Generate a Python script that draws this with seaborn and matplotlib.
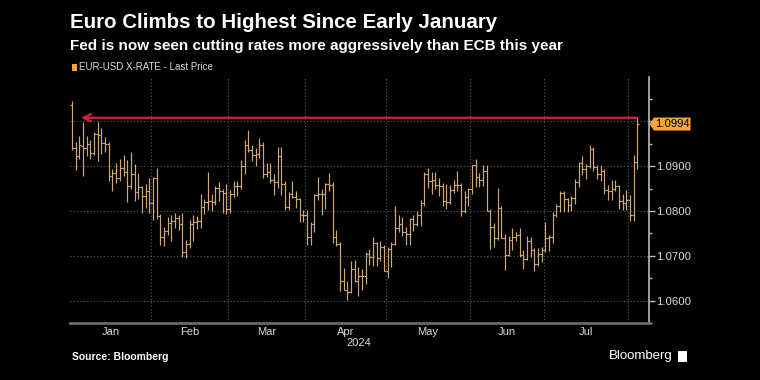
import numpy as np
import pandas as pd
import matplotlib
matplotlib.use("Agg")
import matplotlib.pyplot as plt
import seaborn as sns
from matplotlib.patches import Polygon, Rectangle

# ---------------- data (EUR-USD daily OHLC) ----------------
dates = pd.bdate_range("2024-01-02", "2024-08-05")

opens = [1.1037, 1.0940, 1.0922, 1.0945, 1.0941, 1.0950, 1.0930, 1.0972, 1.0970, 1.0951, 1.0950, 1.0878, 1.0884, 1.0874, 1.0897, 1.0886, 1.0855, 1.0883, 1.0843, 1.0854, 1.0833, 1.0845,
         1.0818, 1.0873, 1.0788, 1.0743, 1.0756, 1.0773, 1.0778, 1.0784, 1.0772, 1.0708, 1.0727, 1.0772, 1.0776, 1.0777, 1.0808, 1.0821, 1.0823, 1.0820, 1.0851, 1.0844, 1.0841,
         1.0804, 1.0838, 1.0855, 1.0856, 1.0900, 1.0948, 1.0937, 1.0926, 1.0927, 1.0948, 1.0882, 1.0888, 1.0869, 1.0864, 1.0923, 1.0860, 1.0808, 1.0838, 1.0831, 1.0826, 1.0790,
         1.0790, 1.0741, 1.0770, 1.0836, 1.0837, 1.0838, 1.0860, 1.0857, 1.0742, 1.0726, 1.0643, 1.0624, 1.0620, 1.0671, 1.0643, 1.0656, 1.0654, 1.0703, 1.0698, 1.0728, 1.0694, 1.0719,
         1.0666, 1.0715, 1.0727, 1.0761, 1.0770, 1.0753, 1.0749, 1.0782, 1.0771, 1.0790, 1.0818, 1.0883, 1.0866, 1.0869, 1.0857, 1.0855, 1.0822, 1.0819, 1.0847, 1.0858, 1.0858, 1.0800, 1.0832,
         1.0848, 1.0902, 1.0876, 1.0869, 1.0890, 1.0800, 1.0765, 1.0740, 1.0806, 1.0740, 1.0702, 1.0735, 1.0741, 1.0746, 1.0701, 1.0692, 1.0733, 1.0714, 1.0681, 1.0704,
         1.0713, 1.0740, 1.0742, 1.0792, 1.0810, 1.0840, 1.0826, 1.0813, 1.0830, 1.0865, 1.0908, 1.0894, 1.0900, 1.0938, 1.0899, 1.0883, 1.0890, 1.0847, 1.0844, 1.0849, 1.0856, 1.0823, 1.0817,
         1.0825, 1.0790, 1.0910]
highs = [1.1046, 1.0954, 1.0968, 1.0998, 1.0968, 1.0958, 1.0976, 1.0998, 1.0986, 1.0966, 1.0953, 1.0893, 1.0907, 1.0915, 1.0924, 1.0914, 1.0932, 1.0904, 1.0885, 1.0856, 1.0860, 1.0874,
         1.0875, 1.0897, 1.0793, 1.0764, 1.0787, 1.0790, 1.0795, 1.0791, 1.0795, 1.0735, 1.0780, 1.0790, 1.0788, 1.0839, 1.0827, 1.0888, 1.0838, 1.0856, 1.0865, 1.0848, 1.0860,
         1.0846, 1.0868, 1.0868, 1.0913, 1.0958, 1.0981, 1.0948, 1.0941, 1.0963, 1.0955, 1.0907, 1.0908, 1.0882, 1.0942, 1.0942, 1.0868, 1.0843, 1.0866, 1.0845, 1.0828, 1.0803,
         1.0803, 1.0776, 1.0838, 1.0876, 1.0848, 1.0862, 1.0885, 1.0865, 1.0758, 1.0730, 1.0672, 1.0644, 1.0689, 1.0690, 1.0674, 1.0670, 1.0709, 1.0715, 1.0742, 1.0730, 1.0733, 1.0725,
         1.0720, 1.0730, 1.0812, 1.0790, 1.0786, 1.0764, 1.0785, 1.0791, 1.0801, 1.0825, 1.0886, 1.0895, 1.0886, 1.0888, 1.0874, 1.0862, 1.0860, 1.0858, 1.0870, 1.0889, 1.0862, 1.0844, 1.0852,
         1.0903, 1.0916, 1.0885, 1.0902, 1.0902, 1.0804, 1.0773, 1.0852, 1.0812, 1.0748, 1.0745, 1.0761, 1.0752, 1.0761, 1.0712, 1.0745, 1.0741, 1.0717, 1.0718, 1.0720,
         1.0776, 1.0746, 1.0798, 1.0816, 1.0845, 1.0845, 1.0830, 1.0833, 1.0872, 1.0910, 1.0922, 1.0904, 1.0948, 1.0943, 1.0902, 1.0902, 1.0893, 1.0857, 1.0869, 1.0870, 1.0858, 1.0837, 1.0846,
         1.0835, 1.0926, 1.1008]
lows = [1.0937, 1.0892, 1.0915, 1.0877, 1.0922, 1.0916, 1.0924, 1.0912, 1.0928, 1.0932, 1.0867, 1.0844, 1.0863, 1.0867, 1.0878, 1.0821, 1.0850, 1.0822, 1.0827, 1.0795, 1.0806, 1.0795,
        1.0780, 1.0781, 1.0723, 1.0722, 1.0746, 1.0732, 1.0763, 1.0758, 1.0697, 1.0695, 1.0718, 1.0732, 1.0760, 1.0762, 1.0793, 1.0803, 1.0800, 1.0813, 1.0822, 1.0796, 1.0794,
        1.0796, 1.0832, 1.0833, 1.0849, 1.0882, 1.0932, 1.0912, 1.0900, 1.0918, 1.0874, 1.0875, 1.0862, 1.0836, 1.0851, 1.0835, 1.0802, 1.0803, 1.0828, 1.0807, 1.0776, 1.0775,
        1.0724, 1.0725, 1.0752, 1.0825, 1.0792, 1.0804, 1.0844, 1.0728, 1.0722, 1.0622, 1.0623, 1.0601, 1.0617, 1.0641, 1.0610, 1.0624, 1.0638, 1.0680, 1.0678, 1.0677, 1.0689, 1.0666,
        1.0650, 1.0676, 1.0724, 1.0752, 1.0744, 1.0724, 1.0724, 1.0755, 1.0766, 1.0766, 1.0810, 1.0852, 1.0838, 1.0849, 1.0834, 1.0812, 1.0805, 1.0816, 1.0840, 1.0844, 1.0788, 1.0795, 1.0810,
        1.0837, 1.0853, 1.0854, 1.0856, 1.0801, 1.0716, 1.0719, 1.0735, 1.0739, 1.0668, 1.0700, 1.0712, 1.0732, 1.0698, 1.0671, 1.0690, 1.0698, 1.0666, 1.0677, 1.0686,
        1.0709, 1.0710, 1.0728, 1.0786, 1.0797, 1.0797, 1.0797, 1.0801, 1.0815, 1.0853, 1.0881, 1.0871, 1.0897, 1.0889, 1.0872, 1.0868, 1.0838, 1.0825, 1.0825, 1.0844, 1.0804, 1.0802, 1.0803,
        1.0777, 1.0778, 1.0893]
closes = [1.0940, 1.0922, 1.0947, 1.0941, 1.0950, 1.0930, 1.0972, 1.0970, 1.0951, 1.0950, 1.0878, 1.0884, 1.0874, 1.0897, 1.0886, 1.0855, 1.0883, 1.0843, 1.0854, 1.0833, 1.0845, 1.0818,
          1.0873, 1.0788, 1.0743, 1.0756, 1.0773, 1.0778, 1.0784, 1.0772, 1.0708, 1.0727, 1.0772, 1.0776, 1.0777, 1.0808, 1.0821, 1.0823, 1.0820, 1.0851, 1.0844, 1.0841, 1.0804,
          1.0838, 1.0855, 1.0856, 1.0900, 1.0948, 1.0937, 1.0926, 1.0927, 1.0948, 1.0882, 1.0888, 1.0869, 1.0864, 1.0923, 1.0860, 1.0808, 1.0838, 1.0831, 1.0826, 1.0790, 1.0790,
          1.0741, 1.0770, 1.0836, 1.0837, 1.0838, 1.0860, 1.0857, 1.0742, 1.0726, 1.0643, 1.0624, 1.0620, 1.0671, 1.0643, 1.0656, 1.0654, 1.0703, 1.0698, 1.0728, 1.0694, 1.0719, 1.0666,
          1.0715, 1.0727, 1.0761, 1.0770, 1.0753, 1.0749, 1.0782, 1.0771, 1.0790, 1.0818, 1.0883, 1.0866, 1.0869, 1.0857, 1.0855, 1.0822, 1.0819, 1.0847, 1.0858, 1.0858, 1.0800, 1.0832, 1.0848,
          1.0902, 1.0876, 1.0869, 1.0890, 1.0800, 1.0765, 1.0740, 1.0806, 1.0740, 1.0702, 1.0735, 1.0741, 1.0746, 1.0701, 1.0692, 1.0733, 1.0714, 1.0681, 1.0704, 1.0713,
          1.0740, 1.0742, 1.0792, 1.0810, 1.0840, 1.0826, 1.0813, 1.0830, 1.0865, 1.0908, 1.0894, 1.0900, 1.0938, 1.0899, 1.0883, 1.0890, 1.0847, 1.0844, 1.0849, 1.0856, 1.0823, 1.0817, 1.0825,
          1.0790, 1.0910, 1.0994]

last_price = 1.0994
y_ticks = [1.06, 1.07, 1.08, 1.09, 1.10]
month_labels = ["Jan", "Feb", "Mar", "Apr", "May", "Jun", "Jul"]

title = "Euro Climbs to Highest Since Early January"
subtitle = "Fed is now seen cutting rates more aggressively than ECB this year"
legend_label = "EUR-USD X-RATE - Last Price"

# ---------------- style ----------------
sns.set_theme(style="dark")
plt.rcParams["font.family"] = ["Liberation Sans", "DejaVu Sans"]

BG = "#000000"
BAR = "#cfa87c"
ORANGE = "#f5a33a"
RED = "#d2213f"
GRID = "#5a5a5a"
TXT = "#d9d9d9"

df = pd.DataFrame({"date": dates, "open": opens, "high": highs, "low": lows, "close": closes})
df["pos"] = np.arange(len(df))

fig = plt.figure(figsize=(7.6, 3.8), dpi=100, facecolor=BG)
ax = fig.add_axes([70.3 / 760, 1 - 323 / 380, (648.6 - 70.3) / 760, (323 - 77) / 380])
ax.set_facecolor(BG)

# OHLC bars
x = df["pos"].to_numpy()
ax.vlines(x, df["low"], df["high"], color=BAR, lw=0.85, zorder=3)
ax.hlines(df["open"], x - 0.5, x, color=BAR, lw=0.85, zorder=3)
ax.hlines(df["close"], x, x + 0.5, color=BAR, lw=0.85, zorder=3)

ax.set_xlim(-0.5, 157.1)
ax.set_ylim(1.0553, 1.1099)

# month boundaries and centers
months = df["date"].dt.to_period("M")
starts = df.groupby(months)["pos"].min()
ends = df.groupby(months)["pos"].max()
bounds = [s - 0.5 for s in starts.values[1:]]
centers = [(s + e) / 2 for s, e in zip(starts.values[:7], ends.values[:7])]

for b in bounds:
    ax.axvline(b, color=GRID, lw=0.8, ls=(0, (1, 2)), zorder=1)
for yv in y_ticks:
    ax.axhline(yv, color=GRID, lw=0.8, ls=(0, (1, 2)), zorder=1)

ax.grid(False)
ax.set_xticks(bounds)
ax.set_xticklabels([])
ax.set_xticks(centers, minor=True)
ax.set_xticklabels(month_labels, minor=True)
ax.tick_params(axis="x", which="major", length=3, color="#777777", width=1, direction="out")
ax.tick_params(axis="x", which="minor", length=0, pad=3, labelsize=8, labelcolor=TXT)

ax.yaxis.tick_right()
ax.set_yticks(y_ticks)
ax.set_yticklabels([f"{v:.4f}" for v in y_ticks[:-1]] + [""])
ax.set_yticks([1.055, 1.065, 1.075, 1.085, 1.095, 1.105], minor=True)
ax.tick_params(axis="y", which="major", length=4, color="#bbbbbb", width=1, labelsize=8.2, labelcolor=TXT, pad=1.2, left=False)
ax.tick_params(axis="y", which="minor", length=2.5, color="#bbbbbb", width=1, left=False, right=True)

for s in ["top", "left"]:
    ax.spines[s].set_visible(False)
ax.spines["right"].set_color("#bbbbbb")
ax.spines["right"].set_linewidth(1.2)
ax.spines["bottom"].set_color("#6a6a6a")
ax.spines["bottom"].set_linewidth(2)

# red arrow from latest high back to early January
hi_last = df["high"].iloc[-1]
ax.annotate("", xy=(2.4, hi_last), xytext=(x[-1], hi_last),
            arrowprops=dict(arrowstyle="->,head_length=0.45,head_width=0.22", color=RED, lw=1.6,
                            shrinkA=0, shrinkB=0), zorder=4)

# last price tag
tr = ax.get_yaxis_transform()
h = 0.00145
tag = Polygon([(1.0016, last_price), (1.0094, last_price + h), (1.0725, last_price + h),
               (1.0725, last_price - h), (1.0094, last_price - h)],
              closed=True, transform=tr, clip_on=False, facecolor=ORANGE, edgecolor="none", zorder=5)
ax.add_patch(tag)
ax.text(1.0113, last_price, f"{last_price:.4f}", transform=tr, ha="left", va="center",
        fontsize=8.1, color="#000000", zorder=6, clip_on=False)

# texts
fig.text(70 / 760, 1 - 22 / 380, title, fontsize=14.8, fontweight="bold", color="white", va="center", ha="left")
fig.text(70 / 760, 1 - 46 / 380, subtitle, fontsize=11, fontweight="bold", color="white", va="center", ha="left")
fig.patches.append(Rectangle((72 / 760, 1 - 70.5 / 380), 5 / 760, 6 / 380, transform=fig.transFigure,
                             facecolor=ORANGE, edgecolor="none"))
fig.text(79 / 760, 1 - 67.5 / 380, legend_label, fontsize=7, color=TXT, va="center", ha="left",
         family=["Liberation Sans Narrow", "Liberation Sans", "DejaVu Sans"])
fig.text(359 / 760, 1 - 343 / 380, "2024", fontsize=8, color=TXT, va="center", ha="center")
fig.text(72 / 760, 1 - 356.5 / 380, "Source: Bloomberg", fontsize=7.5, fontweight="bold", color="white",
         va="center", ha="left")
fig.text(673 / 760, 1 - 356.5 / 380, "Bloomberg", fontsize=9.5, color="white", va="center", ha="right",
         family=["Liberation Sans Narrow", "Liberation Sans", "DejaVu Sans"])
fig.patches.append(Rectangle((678 / 760, 1 - 362 / 380), 9 / 760, 11 / 380, transform=fig.transFigure,
                             facecolor="white", edgecolor="none"))

fig.savefig("out.png", dpi=100, facecolor=BG)
